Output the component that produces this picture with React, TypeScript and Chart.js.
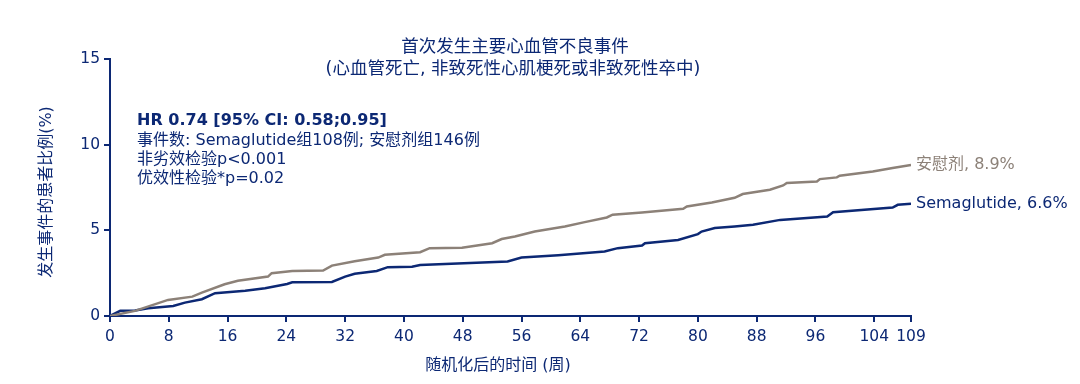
import React, { useEffect, useRef } from "react";
import { Chart, registerables } from "chart.js";

Chart.register(...registerables);

const NAVY = "#0c2874";
const GRAY = "#8c8178";
const FONT = '"DejaVu Sans", "Noto Sans CJK SC", sans-serif';

const xTicks = [0, 8, 16, 24, 32, 40, 48, 56, 64, 72, 80, 88, 96, 104, 109];
const yTicks = [0, 5, 10, 15];

const placeboWeeks = [0, 3.4, 7.9, 11.2, 12.5, 15.6, 17.4, 21.5, 22, 24.8, 29, 30.2, 33.3, 36.5, 37.4, 42.2, 43.5, 47.9, 52, 53.3, 55.1, 57.8, 61.9, 64.6, 67.6, 68.4, 72.4, 78, 78.5, 81.9, 85, 86.1, 89.8, 91.6, 92.1, 96.2, 96.6, 98.9, 99.3, 103.8, 106.5, 109];
const placeboPct = [0, 0.3, 0.94, 1.13, 1.36, 1.85, 2.06, 2.3, 2.5, 2.63, 2.65, 2.94, 3.2, 3.41, 3.57, 3.72, 3.96, 3.98, 4.25, 4.49, 4.64, 4.93, 5.22, 5.48, 5.75, 5.91, 6.04, 6.26, 6.39, 6.63, 6.9, 7.12, 7.37, 7.62, 7.76, 7.85, 7.99, 8.09, 8.19, 8.44, 8.64, 8.82];

const semaWeeks = [0, 1.4, 3.4, 5.2, 8.6, 10.2, 12.5, 14.3, 18.4, 21.1, 24.1, 24.8, 30.2, 32, 33.3, 36.3, 37.8, 41.1, 42.2, 54.1, 56, 61, 67.3, 69.1, 72.4, 72.8, 77.3, 80, 80.5, 82.3, 85, 87.5, 91.2, 97.6, 98.4, 106.5, 107.2, 109];
const semaPct = [0, 0.3, 0.32, 0.45, 0.58, 0.78, 0.98, 1.33, 1.48, 1.62, 1.87, 1.97, 1.99, 2.3, 2.46, 2.63, 2.85, 2.87, 2.98, 3.18, 3.41, 3.55, 3.76, 3.96, 4.11, 4.25, 4.44, 4.78, 4.93, 5.13, 5.22, 5.32, 5.61, 5.81, 6.06, 6.33, 6.49, 6.55];

const titleLines = ["首次发生主要心血管不良事件", "(心血管死亡, 非致死性心肌梗死或非致死性卒中)"];
const statLines = ["HR 0.74 [95% CI: 0.58;0.95]", "事件数: Semaglutide组108例; 安慰剂组146例", "非劣效检验p<0.001", "优效性检验*p=0.02"];
const placeboLabel = "安慰剂, 8.9%";
const semaLabel = "Semaglutide, 6.6%";
const xTitle = "随机化后的时间 (周)";
const yTitle = "发生事件的患者比例(%)";

const textPlugin = {
  id: "texts",
  afterDraw(chart: any) {
    const ctx = chart.ctx;
    ctx.save();
    ctx.textBaseline = "middle";
    // title
    ctx.fillStyle = NAVY;
    ctx.textAlign = "center";
    ctx.font = `17.5px ${FONT}`;
    ctx.fillText(titleLines[0], 515, 47);
    ctx.fillText(titleLines[1], 513, 69);
    // stats
    ctx.textAlign = "left";
    ctx.font = `bold 16px ${FONT}`;
    ctx.fillText(statLines[0], 137, 121);
    ctx.font = `16px ${FONT}`;
    ctx.fillText(statLines[1], 137, 141);
    ctx.fillText(statLines[2], 137, 160);
    ctx.fillText(statLines[3], 137, 179);
    // end labels
    ctx.fillStyle = GRAY;
    ctx.fillText(placeboLabel, 916, 165);
    ctx.fillStyle = NAVY;
    ctx.fillText(semaLabel, 916, 204);
    // axis titles
    ctx.textAlign = "center";
    ctx.fillText(xTitle, 498, 366);
    ctx.translate(47, 192);
    ctx.rotate(-Math.PI / 2);
    ctx.fillText(yTitle, 0, 0);
    ctx.restore();
  },
};

export default function App() {
  const ref = useRef<HTMLCanvasElement>(null);
  useEffect(() => {
    document.body.style.margin = "0";
    const c = ref.current!;
    const chart = new Chart(c, {
      type: "line",
      data: {
        datasets: [
          {
            label: "placebo",
            data: placeboWeeks.map((w, i) => ({ x: w, y: placeboPct[i] })),
            borderColor: GRAY,
            borderWidth: 2.5,
            pointRadius: 0,
            tension: 0,
          },
          {
            label: "sema",
            data: semaWeeks.map((w, i) => ({ x: w, y: semaPct[i] })),
            borderColor: NAVY,
            borderWidth: 2.5,
            pointRadius: 0,
            tension: 0,
          },
        ],
      },
      options: {
        animation: false,
        responsive: false,
        maintainAspectRatio: false,
        layout: { padding: { left: 0, right: 169, top: 59, bottom: 0 } },
        plugins: { legend: { display: false }, tooltip: { enabled: false }, title: { display: false } },
        scales: {
          x: {
            type: "linear",
            min: 0,
            max: 109,
            afterBuildTicks: (s: any) => {
              s.ticks = xTicks.map((v) => ({ value: v }));
            },
            afterFit: (s: any) => {
              s.height = 68;
            },
            border: { color: NAVY, width: 2 },
            grid: { drawOnChartArea: false, color: NAVY, tickLength: 6, lineWidth: 2 },
            ticks: { color: NAVY, font: { family: FONT, size: 15.5 }, padding: 6, maxRotation: 0, autoSkip: false },
          },
          y: {
            type: "linear",
            min: 0,
            max: 15,
            afterBuildTicks: (s: any) => {
              s.ticks = yTicks.map((v) => ({ value: v }));
            },
            afterFit: (s: any) => {
              s.width = 110;
            },
            border: { color: NAVY, width: 2 },
            grid: { drawOnChartArea: false, color: NAVY, tickLength: 6, lineWidth: 2 },
            ticks: { color: NAVY, font: { family: FONT, size: 15.5 }, padding: 4 },
          },
        },
      },
      plugins: [textPlugin],
    } as any);
    return () => chart.destroy();
  }, []);
  return <canvas ref={ref} width={1080} height={384} style={{ display: "block", width: 1080, height: 384 }} />;
}
